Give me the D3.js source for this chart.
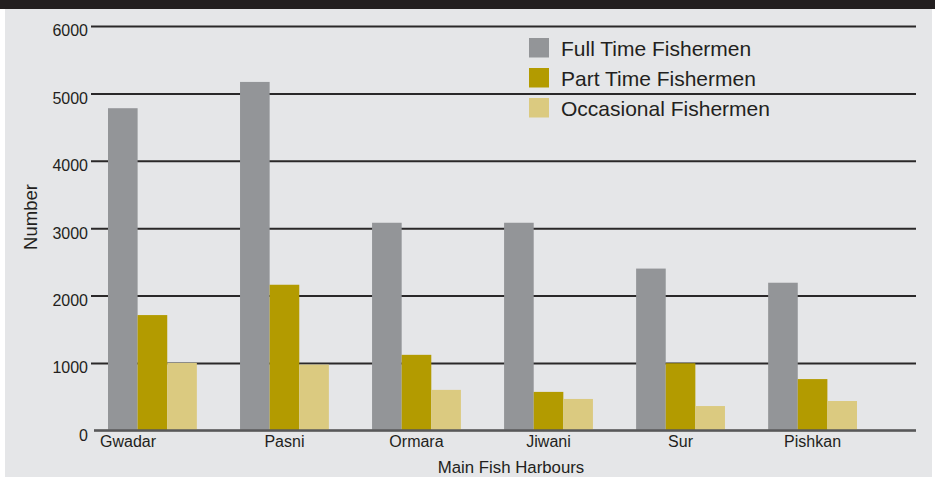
<!DOCTYPE html>
<html>
<head>
<meta charset="utf-8">
<script src="https://cdn.jsdelivr.net/npm/d3@7"></script>
<style>
  html, body { margin: 0; padding: 0; background: #ffffff; }
  svg { display: block; }
  text { font-family: "Liberation Sans", Arial, Helvetica, sans-serif; fill: #231f20; }
</style>
</head>
<body>
<svg id="chart" width="935" height="477"></svg>
<script>
// Fishermen by main fish harbour
const harbours = ["Gwadar", "Pasni", "Ormara", "Jiwani", "Sur", "Pishkan"];
const seriesNames = ["Full Time Fishermen", "Part Time Fishermen", "Occasional Fishermen"];
const fullTime   = [4780, 5170, 3080, 3080, 2400, 2190];
const partTime   = [1710, 2160, 1120, 570, 995, 760];
const occasional = [1000, 975, 600, 465, 360, 435];
const yTicks = [0, 1000, 2000, 3000, 4000, 5000, 6000];
const seriesColors = ["#939598", "#b39b00", "#dbca80"];

const seriesValues = [fullTime, partTime, occasional];
const rows = harbours.map((h, i) => ({
  harbour: h,
  values: seriesNames.map((s, k) => ({ key: s, value: seriesValues[k][i] }))
}));

const W = 935, H = 477;
const svg = d3.select("#chart");

// frame: dark strip on top, light grey panel
svg.append("rect").attr("x", 0).attr("y", 0).attr("width", W).attr("height", 9).attr("fill", "#231f20");
svg.append("rect").attr("x", 5).attr("y", 9).attr("width", 927).attr("height", H - 9).attr("fill", "#e5e6e8");

const plotLeft = 94, plotRight = 916;

const y = d3.scaleLinear().domain([0, 6000]).range([430.3, 26]);

const x0 = d3.scaleBand().domain(harbours).range([108, 857]).paddingInner(0.327).paddingOuter(0);
const x1 = d3.scaleBand().domain(seriesNames).range([0, x0.bandwidth()]);
const color = d3.scaleOrdinal().domain(seriesNames).range(seriesColors);

// gridlines with tick labels
const yAxis = d3.axisLeft(y).tickValues(yTicks).tickFormat(d3.format("d"))
  .tickSize(plotRight - 91).tickPadding(3);
const gy = svg.append("g").attr("transform", `translate(${plotRight},0)`).call(yAxis);
gy.select(".domain").remove();
gy.selectAll(".tick line")
  .attr("stroke", d => d === 0 ? "#58585a" : "#2a2829")
  .attr("stroke-width", 2)
  .attr("x2", d => d === 0 ? -(plotRight - plotLeft) : -(plotRight - 91));
gy.selectAll(".tick text")
  .attr("dy", "0.62em")
  .style("font-size", "16px")
  .style("fill", "#231f20")
  .style("font-family", "'Liberation Sans', Arial, sans-serif");

// bars
const groups = svg.append("g").selectAll("g")
  .data(rows).join("g")
  .attr("transform", d => `translate(${x0(d.harbour)},0)`);
groups.selectAll("rect")
  .data(d => d.values).join("rect")
  .attr("x", d => x1(d.key))
  .attr("y", d => y(d.value))
  .attr("width", x1.bandwidth())
  .attr("height", d => y(0) - y(d.value))
  .attr("fill", d => color(d.key));

// baseline on top of bars
svg.append("line")
  .attr("x1", plotLeft).attr("x2", plotRight)
  .attr("y1", y(0)).attr("y2", y(0))
  .attr("stroke", "#58585a").attr("stroke-width", 2);

// category labels (first one sits flush with its bars)
svg.append("g").selectAll("text")
  .data(harbours).join("text")
  .attr("x", (d, i) => i === 0 ? x0(d) - 8 : x0(d) + x0.bandwidth() / 2)
  .attr("y", 447)
  .attr("text-anchor", (d, i) => i === 0 ? "start" : "middle")
  .style("font-size", "16px")
  .text(d => d);

// axis titles
svg.append("text")
  .attr("x", 511).attr("y", 473)
  .attr("text-anchor", "middle")
  .style("font-size", "16.8px")
  .text("Main Fish Harbours");

svg.append("text")
  .attr("transform", "translate(36.5,217) rotate(-90)")
  .attr("text-anchor", "middle")
  .style("font-size", "18.5px")
  .text("Number");

// legend
const legend = svg.append("g").attr("transform", "translate(529,38)");
const li = legend.selectAll("g").data(seriesNames).join("g")
  .attr("transform", (d, i) => `translate(0,${i * 30})`);
li.append("rect").attr("width", 20).attr("height", 19.5).attr("fill", d => color(d));
li.append("text").attr("x", 32).attr("y", 17.5)
  .style("font-size", "21px")
  .text(d => d);
</script>
</body>
</html>
